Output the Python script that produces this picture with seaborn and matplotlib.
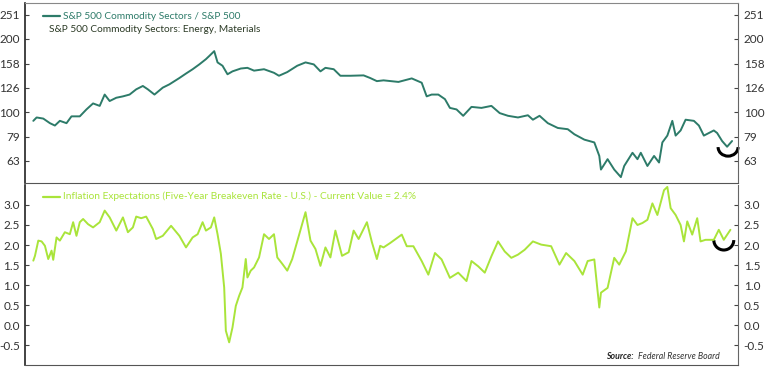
import numpy as np
import matplotlib.pyplot as plt
import pandas as pd
import seaborn as sns
from matplotlib.patches import Arc

# S&P 500 commodity sectors relative to S&P 500
top_year = [2003.0, 2003.1, 2003.3, 2003.5, 2003.65, 2003.8, 2004.0, 2004.15, 2004.4, 2004.6,
            2004.8, 2005.0, 2005.15, 2005.3, 2005.5, 2005.7, 2005.9, 2006.1, 2006.3, 2006.45,
            2006.65, 2006.9, 2007.1, 2007.4, 2007.6, 2007.8, 2008.0, 2008.2, 2008.3, 2008.45,
            2008.55, 2008.7, 2008.85, 2009.0, 2009.25, 2009.45, 2009.65, 2009.95, 2010.25, 2010.4,
            2010.65, 2010.95, 2011.2, 2011.45, 2011.65, 2011.8, 2012.05, 2012.25, 2012.55, 2012.95,
            2013.15, 2013.35, 2013.55, 2014.0, 2014.4, 2014.7, 2014.85, 2015.0, 2015.2, 2015.4,
            2015.55, 2015.75, 2015.95, 2016.2, 2016.5, 2016.8, 2017.05, 2017.3, 2017.6, 2017.9,
            2018.05, 2018.25, 2018.5, 2018.8, 2019.1, 2019.3, 2019.6, 2019.9, 2020.05, 2020.1,
            2020.3, 2020.5, 2020.7, 2020.8, 2021.05, 2021.2, 2021.3, 2021.5, 2021.7, 2021.85,
            2021.95, 2022.1, 2022.25, 2022.35, 2022.5, 2022.65, 2022.9, 2023.05, 2023.2, 2023.5,
            2023.6, 2023.75, 2023.9, 2024.05]
top_value = [92, 95, 94, 90, 88, 92, 90, 96, 96, 102.5,
             108.5, 106, 118, 111, 114.5, 116, 118, 124, 128, 124,
             118, 126, 130, 138, 144, 150, 157, 165, 170, 178,
             160, 155, 143, 147, 151, 152, 148, 150, 145, 141,
             146, 155, 160, 157, 147, 152, 150, 141, 141, 141.5,
             138, 134, 135, 133, 137.5, 132, 116, 118, 118, 113,
             104, 102.5, 96.5, 105, 104, 106, 99, 96.5, 95, 97,
             93, 96.5, 90, 86, 85, 81, 77, 75, 66, 58,
             64, 58, 54, 60, 68, 64, 68, 60, 66, 62,
             75, 80, 92, 80, 84, 93, 92, 88, 80, 84,
             82, 76, 72, 76]

# Five-year breakeven inflation rate, %
bei_year = [2003.0, 2003.05, 2003.15, 2003.25, 2003.35, 2003.45, 2003.55, 2003.6, 2003.7, 2003.8,
            2003.95, 2004.1, 2004.2, 2004.3, 2004.4, 2004.5, 2004.65, 2004.8, 2005.0, 2005.15,
            2005.3, 2005.5, 2005.7, 2005.85, 2006.0, 2006.1, 2006.25, 2006.4, 2006.6, 2006.7,
            2006.9, 2007.15, 2007.4, 2007.6, 2007.8, 2007.95, 2008.1, 2008.2, 2008.35, 2008.45,
            2008.55, 2008.65, 2008.75, 2008.8, 2008.9, 2009.0, 2009.1, 2009.2, 2009.3, 2009.4,
            2009.45, 2009.55, 2009.65, 2009.8, 2009.95, 2010.1, 2010.25, 2010.35, 2010.5, 2010.65,
            2010.8, 2011.0, 2011.2, 2011.35, 2011.5, 2011.65, 2011.8, 2011.95, 2012.1, 2012.3,
            2012.5, 2012.65, 2012.8, 2013.05, 2013.2, 2013.35, 2013.45, 2013.55, 2013.75, 2014.1,
            2014.25, 2014.45, 2014.7, 2014.9, 2015.1, 2015.3, 2015.55, 2015.8, 2016.05, 2016.2,
            2016.4, 2016.6, 2016.8, 2017.0, 2017.2, 2017.4, 2017.6, 2017.8, 2018.05, 2018.3,
            2018.6, 2018.85, 2019.05, 2019.3, 2019.55, 2019.7, 2019.9, 2020.05, 2020.1, 2020.3,
            2020.5, 2020.65, 2020.85, 2021.05, 2021.2, 2021.35, 2021.5, 2021.65, 2021.8, 2022.0,
            2022.1, 2022.2, 2022.35, 2022.5, 2022.6, 2022.7, 2022.85, 2023.0, 2023.1, 2023.25,
            2023.5, 2023.65, 2023.8, 2024.0]
bei_value = [1.61, 1.73, 2.11, 2.09, 1.98, 1.65, 1.86, 1.63, 2.19, 2.11,
             2.32, 2.27, 2.57, 2.23, 2.57, 2.65, 2.52, 2.44, 2.57, 2.86,
             2.69, 2.36, 2.69, 2.32, 2.44, 2.71, 2.67, 2.71, 2.40, 2.15,
             2.23, 2.48, 2.23, 1.94, 2.19, 2.27, 2.57, 2.36, 2.44, 2.69,
             2.27, 1.78, 0.94, -0.14, -0.43, -0.06, 0.48, 0.73, 0.94, 1.65,
             1.19, 1.36, 1.44, 1.69, 2.27, 2.15, 2.27, 1.69, 1.53, 1.36,
             1.65, 2.23, 2.82, 2.11, 1.90, 1.48, 1.94, 1.69, 2.36, 1.73,
             1.82, 2.36, 2.15, 2.57, 2.07, 1.65, 1.98, 1.94, 2.05, 2.26,
             1.97, 1.97, 1.60, 1.26, 1.80, 1.64, 1.18, 1.31, 1.10, 1.60,
             1.47, 1.31, 1.72, 2.09, 1.84, 1.68, 1.76, 1.88, 2.09, 2.01,
             1.97, 1.51, 1.80, 1.60, 1.26, 1.60, 1.64, 0.44, 0.81, 0.93,
             1.68, 1.51, 1.84, 2.67, 2.50, 2.55, 2.63, 3.04, 2.75, 3.37,
             3.45, 2.92, 2.75, 2.50, 2.09, 2.59, 2.26, 2.67, 2.09, 2.13,
             2.13, 2.38, 2.13, 2.38]

top_ticks = [63, 79, 100, 126, 158, 200, 251]
bei_ticks = [-0.5, 0.0, 0.5, 1.0, 1.5, 2.0, 2.5, 3.0]

teal = "#2d7b69"
lime = "#a9e43a"

sns.set_style("white")
plt.rcParams["font.family"] = ["Lato", "DejaVu Sans"]

top_df = pd.DataFrame({"year": top_year, "value": top_value})
bei_df = pd.DataFrame({"year": bei_year, "value": bei_value})

fig = plt.figure(figsize=(7.68, 3.67), dpi=100)
gs = fig.add_gridspec(2, 1, left=0.033, right=0.961, top=0.992, bottom=0.005, hspace=0.01)
ax1 = fig.add_subplot(gs[0])
ax2 = fig.add_subplot(gs[1])

sns.lineplot(data=top_df, x="year", y="value", ax=ax1, color=teal, linewidth=1.4)
sns.lineplot(data=bei_df, x="year", y="value", ax=ax2, color=lime, linewidth=1.4)

ax1.set_yscale("log")
ax1.set_ylim(51, 281)
ax2.set_ylim(-1.0, 3.5)

for ax in (ax1, ax2):
    ax.set_xlim(2002.76, 2024.23)
    ax.set_xlabel("")
    ax.set_ylabel("")
    ax.set_xticks([])
    ax.tick_params(axis="y", direction="in", length=3, width=0.8, color="#444444",
                   labelsize=8.5, labelcolor="#333333", left=True, right=True,
                   labelleft=True, labelright=True, pad=4)
    ax.spines["left"].set_color("#222222")
    ax.spines["left"].set_linewidth(1.2)
    ax.spines["right"].set_color("#666666")
    ax.spines["top"].set_color("#888888")
    ax.spines["bottom"].set_color("#555555")

ax1.yaxis.set_major_locator(plt.FixedLocator(top_ticks))
ax1.yaxis.set_minor_locator(plt.NullLocator())
ax1.set_yticklabels([str(t) for t in top_ticks])
ax2.set_yticks(bei_ticks)
ax2.set_yticklabels([f"{t:.1f}" for t in bei_ticks])
ax2.spines["top"].set_visible(False)

# legends drawn as text
ax1.plot([0.025, 0.048], [0.925, 0.925], transform=ax1.transAxes, color=teal, linewidth=1.6)
ax1.text(0.053, 0.925, "S&P 500 Commodity Sectors / S&P 500", transform=ax1.transAxes,
         color=teal, fontsize=7.3, va="center")
ax1.text(0.033, 0.85, "S&P 500 Commodity Sectors: Energy, Materials", transform=ax1.transAxes,
         color="#2b3a25", fontsize=7.3, va="center")
ax2.plot([0.025, 0.048], [0.935, 0.935], transform=ax2.transAxes, color=lime, linewidth=1.6)
ax2.text(0.053, 0.935, "Inflation Expectations (Five-Year Breakeven Rate - U.S.) - Current Value = 2.4%",
         transform=ax2.transAxes, color=lime, fontsize=7.3, va="center")

ax2.text(0.854, 0.025, "Source:", transform=ax2.transAxes, fontsize=6.3, style="italic",
         fontweight="bold", color="#222222", va="bottom", ha="right")
ax2.text(0.859, 0.025, "Federal Reserve Board", transform=ax2.transAxes, fontsize=6.3,
         style="italic", color="#333333", va="bottom", ha="left")

# highlight marks on the latest readings
ax1.add_patch(Arc((0.986, 0.2), 0.028, 0.1, theta1=180, theta2=360, transform=ax1.transAxes,
                  color="black", linewidth=2.2, clip_on=False))
ax2.add_patch(Arc((0.980, 0.694), 0.028, 0.11, theta1=180, theta2=360, transform=ax2.transAxes,
                  color="black", linewidth=2.2, clip_on=False))

fig.savefig("out.png", dpi=100)
